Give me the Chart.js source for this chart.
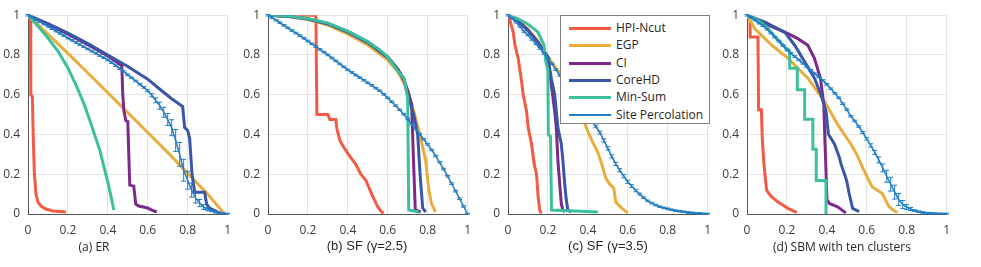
<!DOCTYPE html>
<html>
<head>
<meta charset="utf-8">
<script src="https://cdn.jsdelivr.net/npm/chart.js@4.4.1/dist/chart.umd.min.js"></script>
<style>
  body { margin: 0; background: #fff; }
  #wrap { position: relative; width: 981px; height: 267px; overflow: hidden; }
  #wrap canvas { position: absolute; top: 0; }
  .cap { position: absolute; top: 238px; white-space: nowrap; color: #262626; transform: translateX(-50%); }
  #legend { position: absolute; left: 560px; top: 15px; width: 148px; height: 107px; background: #fff; border: 1px solid #808080; }
  .row { position: absolute; left: 0; height: 16px; font: 12px "Open Sans", sans-serif; color: #262626; }
  .row span.sw { position: absolute; left: 8px; top: 7px; width: 42px; }
  .row span.tx { position: absolute; left: 55px; top: 0; line-height: 16px; white-space: nowrap; }
</style>
</head>
<body>
<div id="wrap">
  <canvas id="c0" width="240" height="267" style="left:0px"></canvas>
  <canvas id="c1" width="240" height="267" style="left:240px"></canvas>
  <canvas id="c2" width="240" height="267" style="left:480px"></canvas>
  <canvas id="c3" width="240" height="267" style="left:719px"></canvas>
  <div class="cap" style="left:94px; font:12px 'Open Sans', sans-serif">(a) ER</div>
  <div class="cap" style="left:367px; font:13px 'Liberation Sans', Arial, sans-serif">(b) SF (γ=2.5)</div>
  <div class="cap" style="left:608px; font:13px 'Liberation Sans', Arial, sans-serif">(c) SF (γ=3.5)</div>
  <div class="cap" style="left:842px; font:12px 'Open Sans', sans-serif">(d) SBM with ten clusters</div>
  <div id="legend"></div>
</div>
<script>
var seriesNames = ["HPI-Ncut", "EGP", "CI", "CoreHD", "Min-Sum", "Site Percolation"];
var seriesColors = ["#f35a43", "#e9ad3d", "#7b2a8c", "#3a56a6", "#3bbf9d", "#1f7dc5"];

var siteX = [0,0.02,0.04,0.06,0.08,0.1,0.12,0.14,0.16,0.18,0.2,0.22,0.24,0.26,0.28,0.3,0.32,0.34,0.36,0.38,0.4,
  0.42,0.44,0.46,0.48,0.5,0.52,0.54,0.56,0.58,0.6,0.62,0.64,0.66,0.68,0.7,0.72,0.74,0.76,0.78,0.8,
  0.82,0.84,0.86,0.88,0.9,0.92,0.94,0.96,0.98,1];

// (a) ER
var erHpi = [[0,1],[0.012,0.97],[0.014,0.6],[0.022,0.59],[0.026,0.4],[0.032,0.2],[0.04,0.1],[0.05,0.06],[0.065,0.04],[0.09,0.025],[0.124,0.015],[0.19,0.01]];
var erEgp = [[0,1],[0.1,0.905],[0.2,0.808],[0.3,0.709],[0.4,0.61],[0.5,0.51],[0.6,0.41],[0.7,0.31],[0.8,0.205],[0.9,0.1],[0.985,0]];
var erCi = [[0,1],[0.1,0.955],[0.2,0.905],[0.3,0.852],[0.4,0.795],[0.47,0.745],[0.475,0.6],[0.48,0.52],[0.49,0.47],[0.5,0.465],[0.505,0.3],[0.51,0.145],[0.53,0.14],[0.54,0.05],[0.555,0.04],[0.6,0.03],[0.62,0.02],[0.645,0.01]];
var erCore = [[0,1],[0.1,0.958],[0.2,0.91],[0.3,0.857],[0.4,0.8],[0.5,0.742],[0.6,0.678],[0.67,0.62],[0.72,0.58],[0.775,0.54],[0.785,0.435],[0.8,0.42],[0.81,0.38],[0.822,0.2],[0.835,0.11],[0.885,0.11],[0.895,0.05],[0.91,0.03],[0.93,0.02],[0.95,0.01],[0.97,0]];
var erMin = [[0,1],[0.05,0.945],[0.1,0.885],[0.15,0.82],[0.2,0.735],[0.24,0.65],[0.28,0.555],[0.31,0.47],[0.34,0.38],[0.36,0.32],[0.38,0.24],[0.4,0.16],[0.42,0.07],[0.43,0.02]];
var erSite = [1,0.99,0.978,0.967,0.955,0.944,0.932,0.92,0.909,0.897,0.885,0.874,0.863,0.852,0.841,0.83,0.819,0.808,0.797,0.786,0.775,
  0.761,0.746,0.731,0.716,0.7,0.685,0.669,0.653,0.637,0.62,0.597,0.572,0.545,0.512,0.475,0.434,0.37,0.3,0.22,0.17,
  0.12,0.08,0.055,0.035,0.024,0.015,0.009,0.005,0.002,0];
var erSiteErr = [0.004,0.004,0.004,0.004,0.004,0.004,0.004,0.004,0.004,0.004,0.004,0.004,0.004,0.004,0.004,0.004,0.004,0.004,0.004,0.004,0.004,
  0.004,0.004,0.004,0.004,0.004,0.004,0.004,0.004,0.004,0.005,0.008,0.012,0.018,0.025,0.03,0.04,0.055,0.06,0.055,0.045,
  0.035,0.025,0.018,0.012,0.008,0.004,0.004,0.004,0.004,0.004];

// (b) SF gamma 2.5
var sfaHpi = [[0,1],[0.24,1],[0.245,0.5],[0.3,0.5],[0.31,0.475],[0.34,0.475],[0.345,0.43],[0.36,0.37],[0.38,0.335],[0.41,0.29],[0.44,0.25],[0.465,0.2],[0.49,0.17],[0.52,0.1],[0.55,0.035],[0.57,0.01],[0.58,0.005]];
var sfaEgp = [[0,1],[0.1,0.993],[0.2,0.978],[0.3,0.95],[0.4,0.905],[0.5,0.85],[0.6,0.775],[0.65,0.715],[0.7,0.625],[0.73,0.52],[0.756,0.42],[0.79,0.27],[0.806,0.12],[0.82,0.05],[0.84,0.01]];
var sfaCi = [[0,1],[0.1,0.995],[0.2,0.982],[0.3,0.958],[0.4,0.918],[0.5,0.865],[0.6,0.79],[0.65,0.73],[0.68,0.68],[0.7,0.62],[0.72,0.55],[0.728,0.3],[0.738,0.02],[0.765,0.01]];
var sfaCore = [[0,1],[0.1,0.995],[0.2,0.981],[0.3,0.956],[0.4,0.915],[0.5,0.862],[0.6,0.787],[0.65,0.727],[0.68,0.677],[0.7,0.6],[0.73,0.5],[0.75,0.4],[0.762,0.2],[0.775,0.03],[0.79,0.01]];
var sfaMin = [[0,1],[0.1,0.996],[0.2,0.983],[0.3,0.96],[0.4,0.92],[0.5,0.868],[0.56,0.825],[0.6,0.79],[0.657,0.71],[0.682,0.683],[0.7,0.585],[0.705,0.02],[0.756,0.01]];
var sfaSite = [1,0.988,0.975,0.962,0.949,0.936,0.923,0.91,0.897,0.884,0.87,0.856,0.842,0.828,0.814,0.8,0.785,0.77,0.755,0.74,0.725,
  0.712,0.699,0.686,0.673,0.66,0.647,0.633,0.62,0.602,0.584,0.565,0.545,0.524,0.502,0.478,0.453,0.428,0.402,0.376,0.35,
  0.322,0.292,0.26,0.226,0.19,0.153,0.115,0.077,0.038,0];
var sfaSiteErr = [0.004,0.004,0.004,0.004,0.004,0.004,0.004,0.004,0.004,0.004,0.004,0.004,0.004,0.004,0.004,0.004,0.004,0.004,0.004,0.004,0.004,
  0.004,0.004,0.004,0.004,0.004,0.004,0.004,0.004,0.004,0.004,0.004,0.004,0.004,0.004,0.004,0.004,0.004,0.004,0.004,0.004,
  0.004,0.004,0.004,0.004,0.004,0.004,0.004,0.004,0.004,0.004];

// (c) SF gamma 3.5
var sfbHpi = [[0,1],[0.01,0.973],[0.026,0.915],[0.035,0.85],[0.051,0.783],[0.068,0.667],[0.076,0.6],[0.093,0.517],[0.101,0.435],[0.118,0.352],[0.131,0.252],[0.143,0.2],[0.151,0.086],[0.159,0.02],[0.167,0.003]];
var sfbEgp = [[0,1],[0.05,0.975],[0.1,0.93],[0.15,0.87],[0.2,0.79],[0.25,0.72],[0.3,0.67],[0.35,0.56],[0.39,0.44],[0.42,0.37],[0.45,0.31],[0.47,0.25],[0.49,0.18],[0.51,0.15],[0.53,0.13],[0.54,0.06],[0.57,0.03],[0.6,0.005]];
var sfbCi = [[0,1],[0.05,0.97],[0.1,0.925],[0.15,0.865],[0.2,0.79],[0.209,0.716],[0.234,0.517],[0.242,0.435],[0.25,0.27],[0.259,0.153],[0.267,0.053],[0.275,0.02],[0.284,0.01]];
var sfbCore = [[0,1],[0.05,0.97],[0.1,0.922],[0.15,0.862],[0.2,0.785],[0.217,0.683],[0.234,0.6],[0.25,0.435],[0.267,0.352],[0.275,0.27],[0.284,0.153],[0.292,0.07],[0.3,0.02],[0.317,0.01]];
var sfbMin = [[0,1],[0.05,0.982],[0.1,0.955],[0.15,0.915],[0.18,0.85],[0.19,0.765],[0.2,0.72],[0.202,0.4],[0.213,0.39],[0.218,0.02],[0.45,0.01]];
var sfbSite = [1,0.985,0.965,0.943,0.918,0.9,0.878,0.856,0.833,0.808,0.783,0.755,0.726,0.697,0.668,0.64,0.612,0.584,0.556,0.528,0.5,
  0.47,0.44,0.41,0.37,0.33,0.29,0.252,0.22,0.19,0.162,0.14,0.118,0.1,0.082,0.066,0.055,0.045,0.037,0.031,0.026,
  0.021,0.017,0.014,0.011,0.008,0.006,0.004,0.003,0.001,0];
var sfbSiteErr = [0.004,0.004,0.004,0.004,0.004,0.004,0.004,0.004,0.004,0.004,0.004,0.004,0.004,0.004,0.004,0.004,0.004,0.004,0.004,0.004,0.004,
  0.005,0.006,0.007,0.008,0.008,0.008,0.008,0.008,0.008,0.008,0.007,0.006,0.005,0.004,0.004,0.004,0.004,0.004,0.004,0.004,
  0.004,0.004,0.004,0.004,0.004,0.004,0.004,0.004,0.004,0.004];

// (d) SBM with ten clusters
var sbmHpi = [[0,1],[0.015,0.99],[0.016,0.89],[0.055,0.89],[0.058,0.525],[0.072,0.525],[0.077,0.37],[0.085,0.25],[0.09,0.2],[0.098,0.12],[0.12,0.09],[0.155,0.06],[0.18,0.045],[0.205,0.028],[0.24,0.012],[0.25,0.008]];
var sbmEgp = [[0,1],[0.04,0.93],[0.073,0.9],[0.123,0.85],[0.206,0.783],[0.305,0.683],[0.388,0.567],[0.454,0.451],[0.52,0.352],[0.55,0.3],[0.579,0.235],[0.61,0.17],[0.628,0.136],[0.678,0.103],[0.695,0.07],[0.711,0.037],[0.744,0.012],[0.755,0.01]];
var sbmCi = [[0,1],[0.09,0.957],[0.206,0.907],[0.255,0.882],[0.305,0.849],[0.338,0.783],[0.368,0.683],[0.385,0.55],[0.391,0.352],[0.401,0.07],[0.413,0.053],[0.454,0.036],[0.488,0.011],[0.495,0.005]];
var sbmCore = [[0,1],[0.09,0.965],[0.189,0.915],[0.239,0.849],[0.289,0.766],[0.338,0.683],[0.371,0.6],[0.396,0.517],[0.408,0.401],[0.438,0.352],[0.463,0.285],[0.471,0.252],[0.488,0.202],[0.5,0.165],[0.512,0.103],[0.529,0.028],[0.562,0.012]];
var sbmMin = [[0,1],[0.056,0.974],[0.098,0.94],[0.148,0.882],[0.189,0.841],[0.214,0.82],[0.214,0.733],[0.252,0.733],[0.252,0.625],[0.289,0.625],[0.289,0.476],[0.33,0.476],[0.33,0.326],[0.347,0.326],[0.347,0.169],[0.396,0.169],[0.396,0]];
var sbmSite = [1,0.99,0.975,0.96,0.947,0.93,0.91,0.89,0.87,0.848,0.825,0.808,0.792,0.775,0.758,0.74,0.723,0.706,0.689,0.672,0.652,
  0.63,0.607,0.585,0.555,0.525,0.492,0.468,0.44,0.41,0.378,0.345,0.31,0.272,0.232,0.19,0.15,0.11,0.073,0.048,0.035,
  0.025,0.017,0.012,0.008,0.005,0.003,0.002,0.001,0.0005,0];
var sbmSiteErr = [0.004,0.004,0.004,0.004,0.004,0.004,0.004,0.004,0.004,0.004,0.004,0.004,0.004,0.004,0.004,0.004,0.004,0.004,0.004,0.004,0.004,
  0.004,0.004,0.004,0.004,0.004,0.004,0.004,0.004,0.005,0.006,0.008,0.01,0.015,0.02,0.03,0.035,0.035,0.03,0.02,0.012,
  0.008,0.005,0.004,0.004,0.004,0.004,0.004,0.004,0.004,0.004];

var panels = [
  { id: "c0", lines: [erHpi, erEgp, erCi, erCore, erMin], site: erSite, err: erSiteErr, right: 11 },
  { id: "c1", lines: [sfaHpi, sfaEgp, sfaCi, sfaCore, sfaMin], site: sfaSite, err: sfaSiteErr, right: 11 },
  { id: "c2", lines: [sfbHpi, sfbEgp, sfbCi, sfbCore, sfbMin], site: sfbSite, err: sfbSiteErr, right: 11 },
  { id: "c3", lines: [sbmHpi, sbmEgp, sbmCi, sbmCore, sbmMin], site: sbmSite, err: sbmSiteErr, right: 10 }
];

// draws the error bars of the site percolation series
var errorBars = {
  id: "errorBars",
  afterDatasetsDraw: function (chart) {
    var ctx = chart.ctx;
    var xs = chart.scales.x, ys = chart.scales.y;
    chart.data.datasets.forEach(function (ds) {
      if (!ds.errors) return;
      ctx.save();
      ctx.strokeStyle = ds.borderColor;
      ctx.lineWidth = 1;
      ds.data.forEach(function (p, i) {
        var e = ds.errors[i];
        var px = xs.getPixelForValue(p.x);
        var top = ys.getPixelForValue(p.y + e);
        var bot = ys.getPixelForValue(Math.max(0, p.y - e));
        ctx.beginPath();
        ctx.moveTo(px, top); ctx.lineTo(px, bot);
        ctx.moveTo(px - 2.5, top); ctx.lineTo(px + 2.5, top);
        ctx.moveTo(px - 2.5, bot); ctx.lineTo(px + 2.5, bot);
        ctx.stroke();
      });
      ctx.restore();
    });
  }
};

var tickFont = { family: "'Open Sans', sans-serif", size: 12 };
function tickLabel(v) { return String(Math.round(v * 10) / 10); }

panels.forEach(function (p) {
  var datasets = p.lines.map(function (d, k) {
    return {
      label: seriesNames[k], data: d, showLine: true,
      borderColor: seriesColors[k], borderWidth: 3, pointRadius: 0,
      order: 10 - k
    };
  });
  datasets.push({
    label: seriesNames[5],
    data: siteX.map(function (x, i) { return { x: x, y: p.site[i] }; }),
    errors: p.err, showLine: true,
    borderColor: seriesColors[5], borderWidth: 1.5, pointRadius: 0, order: 0
  });

  new Chart(document.getElementById(p.id), {
    type: "scatter",
    data: { datasets: datasets },
    plugins: [errorBars],
    options: {
      responsive: false,
      animation: false,
      layout: { padding: { top: 13, right: p.right, left: 0, bottom: 0 } },
      plugins: { legend: { display: false }, tooltip: { enabled: false } },
      scales: {
        x: {
          type: "linear", min: 0, max: 1,
          ticks: { stepSize: 0.2, font: tickFont, color: "#3a3a3a", padding: 9, maxRotation: 0, callback: tickLabel },
          grid: { color: "#e3e3e3", drawTicks: false },
          border: { color: "#555", width: 1 },
          afterFit: function (s) { s.height = 53; }
        },
        y: {
          type: "linear", min: 0, max: 1,
          ticks: { stepSize: 0.2, font: tickFont, color: "#3a3a3a", padding: 8, callback: tickLabel },
          grid: { color: "#e3e3e3", drawTicks: false },
          border: { color: "#555", width: 1 },
          afterFit: function (s) { s.width = 28; }
        }
      }
    }
  });
});

// legend box inside panel (c)
var legend = document.getElementById("legend");
seriesNames.forEach(function (name, i) {
  var row = document.createElement("div");
  row.className = "row";
  row.style.top = (4 + i * 17.3) + "px";
  var sw = document.createElement("span");
  sw.className = "sw";
  sw.style.height = (i === 5 ? 1.5 : 3) + "px";
  sw.style.top = (i === 5 ? 7.5 : 7) + "px";
  sw.style.background = seriesColors[i];
  var tx = document.createElement("span");
  tx.className = "tx";
  tx.textContent = name;
  row.appendChild(sw);
  row.appendChild(tx);
  legend.appendChild(row);
});
</script>
</body>
</html>
